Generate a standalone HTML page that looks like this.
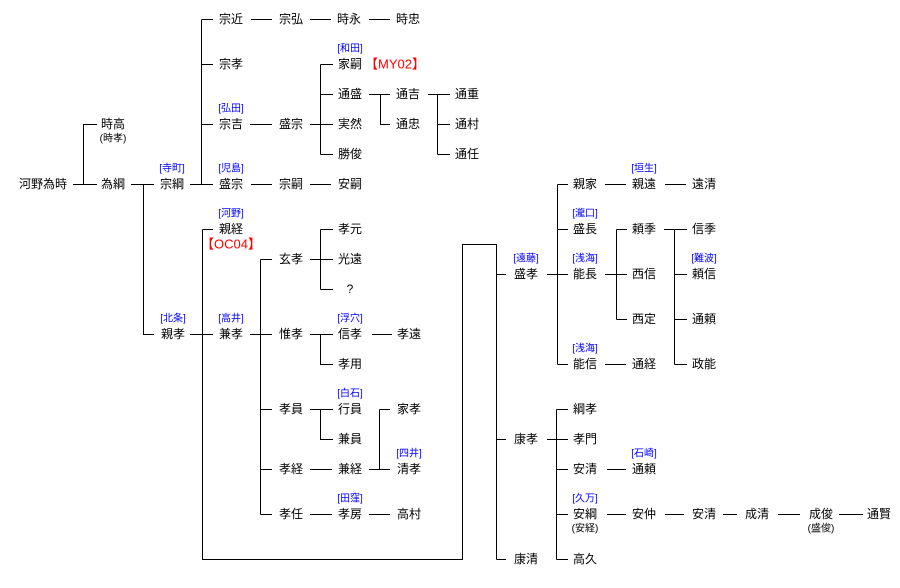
<!DOCTYPE html>
<html><head><meta charset="utf-8">
<style>
html,body{margin:0;padding:0;background:#fff;}
svg{display:block;}
text{font-family:"Liberation Sans","Noto Sans CJK JP",sans-serif;}
.n{font-size:12px;fill:#000;text-anchor:middle;dominant-baseline:central;}
.b{font-size:10px;fill:#0000ff;text-anchor:middle;dominant-baseline:central;}
.r{font-size:13px;fill:#ff0000;text-anchor:middle;dominant-baseline:central;}
.p{font-size:10px;fill:#000;text-anchor:middle;dominant-baseline:central;}
</style></head><body>
<svg width="900" height="588" viewBox="0 0 900 588" xmlns="http://www.w3.org/2000/svg">
<g stroke="#000" stroke-width="1" fill="none" shape-rendering="crispEdges">
<!-- 為時 -->
<path d="M73 184.5H97M83.5 184.5V124.5H97"/>
<!-- 為綱 -->
<path d="M131 184.5H154M143.5 184.5V334.5H154"/>
<!-- 宗綱 -->
<path d="M190 184.5H213M201.5 19.5V184.5M201.5 19.5H213M201.5 64.5H213M201.5 124.5H213"/>
<path d="M251 19.5H272M310 19.5H331M369 19.5H390"/>
<path d="M250 124.5H272M310 124.5H333M320.5 64.5V154.5M320.5 64.5H333M320.5 94.5H333M320.5 154.5H333"/>
<path d="M369 94.5H390M380.5 94.5V124.5H390M428 94.5H450M437.5 94.5V154.5M437.5 124.5H450M437.5 154.5H450"/>
<path d="M251 184.5H272M310 184.5H331"/>
<!-- 親孝 -->
<path d="M190 334.5H213M202.5 229.5V559.5H462.5V244.5H496.5V559.5M202.5 229.5H213"/>
<path d="M496.5 274.5H506M496.5 439.5H506M496.5 559.5H506"/>
<path d="M250 334.5H272M260.5 259.5V514.5M260.5 259.5H272M260.5 409.5H272M260.5 469.5H272M260.5 514.5H272"/>
<path d="M310 259.5H333M320.5 229.5V289.5M320.5 229.5H333M320.5 289.5H333"/>
<path d="M310 334.5H333M320.5 334.5V364.5H333M372 334.5H392"/>
<path d="M310 409.5H333M320.5 409.5V439.5H333"/>
<path d="M310 469.5H332M369 469.5H390M379.5 409.5V469.5M379.5 409.5H390"/>
<path d="M310 514.5H332M369 514.5H390"/>
<!-- 盛孝 -->
<path d="M547 274.5H568M557.5 184.5V364.5M557.5 184.5H568M557.5 229.5H568M557.5 364.5H568"/>
<path d="M605 184.5H626M665 184.5H686"/>
<path d="M605 274.5H627M616.5 229.5V319.5M616.5 229.5H627M616.5 319.5H627"/>
<path d="M664 229.5H687M674.5 229.5V364.5M674.5 274.5H687M674.5 319.5H687M674.5 364.5H687"/>
<path d="M605 364.5H626"/>
<!-- 康孝 -->
<path d="M547 439.5H568M556.5 409.5V559.5M556.5 409.5H568M556.5 469.5H568M556.5 514.5H568M556.5 559.5H568"/>
<path d="M607 469.5H626M607 514.5H626M665 514.5H684M723 514.5H737M778 514.5H800M839 514.5H863"/>
</g>
<!-- names -->
<text class="n" x="43" y="184">河野為時</text>
<text class="n" x="113" y="124">時高</text>
<text class="p" x="113" y="139">(時孝)</text>
<text class="n" x="113" y="184">為綱</text>
<text class="b" x="172" y="169">[寺町]</text>
<text class="n" x="172" y="184">宗綱</text>
<text class="n" x="231" y="19">宗近</text>
<text class="n" x="291" y="19">宗弘</text>
<text class="n" x="349" y="19">時永</text>
<text class="n" x="408" y="19">時忠</text>
<text class="n" x="231" y="64">宗孝</text>
<text class="b" x="231" y="109">[弘田]</text>
<text class="n" x="231" y="124">宗吉</text>
<text class="n" x="291" y="124">盛宗</text>
<text class="b" x="350" y="49">[和田]</text>
<text class="n" x="350" y="64">家嗣</text>
<text class="r" x="395" y="64">【MY02】</text>
<text class="n" x="350" y="94">通盛</text>
<text class="n" x="350" y="124">実然</text>
<text class="n" x="350" y="154">勝俊</text>
<text class="n" x="408" y="94">通吉</text>
<text class="n" x="408" y="124">通忠</text>
<text class="n" x="467" y="94">通重</text>
<text class="n" x="467" y="124">通村</text>
<text class="n" x="467" y="154">通任</text>
<text class="b" x="231" y="169">[児島]</text>
<text class="n" x="231" y="184">盛宗</text>
<text class="n" x="291" y="184">宗嗣</text>
<text class="n" x="350" y="184">安嗣</text>

<text class="b" x="173" y="319">[北条]</text>
<text class="n" x="173" y="334">親孝</text>
<text class="b" x="231" y="214">[河野]</text>
<text class="n" x="231" y="229">親経</text>
<text class="r" x="231" y="244">【OC04】</text>
<text class="b" x="231" y="319">[高井]</text>
<text class="n" x="231" y="334">兼孝</text>
<text class="n" x="291" y="259">玄孝</text>
<text class="n" x="350" y="229">孝元</text>
<text class="n" x="350" y="259">光遠</text>
<text class="n" x="350" y="289">?</text>
<text class="n" x="291" y="334">惟孝</text>
<text class="b" x="350" y="319">[浮穴]</text>
<text class="n" x="350" y="334">信孝</text>
<text class="n" x="409" y="334">孝遠</text>
<text class="n" x="350" y="364">孝用</text>
<text class="n" x="291" y="409">孝員</text>
<text class="b" x="350" y="394">[白石]</text>
<text class="n" x="350" y="409">行員</text>
<text class="n" x="350" y="439">兼員</text>
<text class="n" x="291" y="469">孝経</text>
<text class="n" x="350" y="469">兼経</text>
<text class="n" x="409" y="409">家孝</text>
<text class="b" x="409" y="454">[四井]</text>
<text class="n" x="409" y="469">清孝</text>
<text class="n" x="291" y="514">孝任</text>
<text class="b" x="350" y="499">[田窪]</text>
<text class="n" x="350" y="514">孝房</text>
<text class="n" x="409" y="514">高村</text>

<text class="b" x="526" y="259">[遠藤]</text>
<text class="n" x="526" y="274">盛孝</text>
<text class="n" x="585" y="184">親家</text>
<text class="b" x="644" y="169">[垣生]</text>
<text class="n" x="644" y="184">親遠</text>
<text class="n" x="704" y="184">遠清</text>
<text class="b" x="585" y="214">[瀧口]</text>
<text class="n" x="585" y="229">盛長</text>
<text class="b" x="585" y="259">[浅海]</text>
<text class="n" x="585" y="274">能長</text>
<text class="n" x="644" y="229">頼季</text>
<text class="n" x="644" y="274">西信</text>
<text class="n" x="644" y="319">西定</text>
<text class="n" x="704" y="229">信季</text>
<text class="b" x="704" y="259">[難波]</text>
<text class="n" x="704" y="274">頼信</text>
<text class="n" x="704" y="319">通頼</text>
<text class="n" x="704" y="364">政能</text>
<text class="b" x="585" y="349">[浅海]</text>
<text class="n" x="585" y="364">能信</text>
<text class="n" x="644" y="364">通経</text>

<text class="n" x="526" y="439">康孝</text>
<text class="n" x="526" y="559">康清</text>
<text class="n" x="585" y="409">綱孝</text>
<text class="n" x="585" y="439">孝門</text>
<text class="n" x="585" y="469">安清</text>
<text class="b" x="644" y="454">[石崎]</text>
<text class="n" x="644" y="469">通頼</text>
<text class="b" x="585" y="499">[久万]</text>
<text class="n" x="585" y="514">安綱</text>
<text class="p" x="585" y="529">(安経)</text>
<text class="n" x="644" y="514">安仲</text>
<text class="n" x="704" y="514">安清</text>
<text class="n" x="757" y="514">成清</text>
<text class="n" x="821" y="514">成俊</text>
<text class="p" x="821" y="529">(盛俊)</text>
<text class="n" x="879" y="514">通賢</text>
<text class="n" x="585" y="559">高久</text>
</svg>
</body></html>
